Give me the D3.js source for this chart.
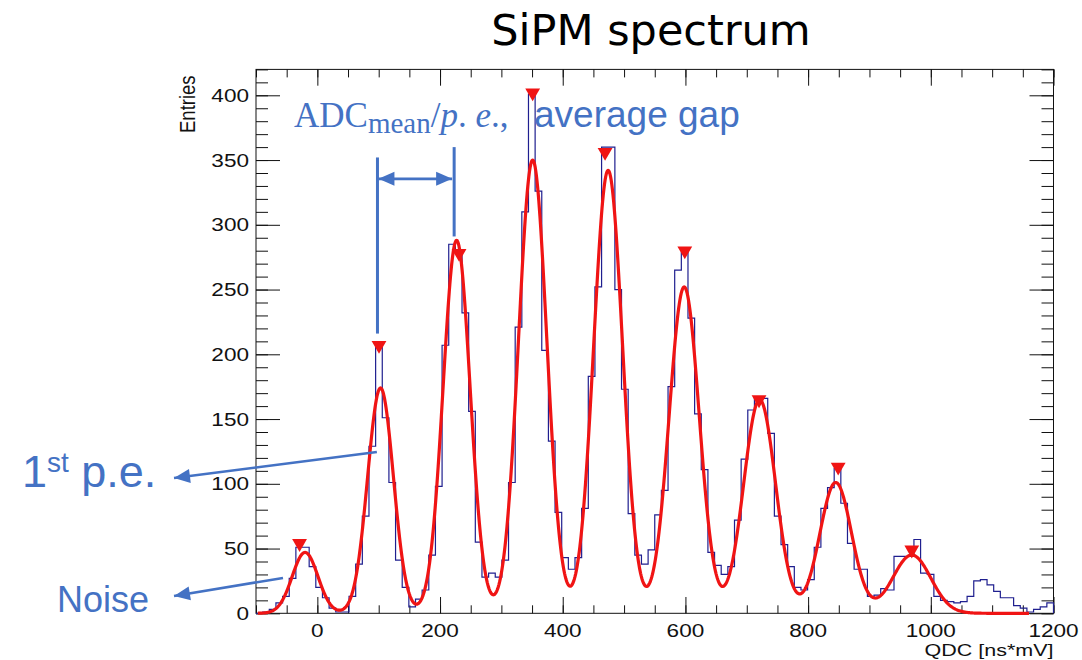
<!DOCTYPE html>
<html><head><meta charset="utf-8">
<script src="https://cdn.jsdelivr.net/npm/d3@7"></script>
<style>body{margin:0;background:#fff} svg{display:block}</style>
</head><body>
<svg id="c" width="1082" height="660"></svg>
<script>
// ---------------- data ----------------
const binLow = -100, binHigh = 1200;
const counts = [
  0, 1, 3, 8, 13, 27, 51, 51, 36, 20,
  12, 4, 1, 1, 13, 38, 75, 129, 207, 151,
  101, 41, 20, 5, 11, 18, 45, 98, 207, 285,
  279, 232, 156, 55, 28, 31, 28, 41, 101, 221,
  310, 401, 326, 203, 133, 78, 43, 34, 43, 81,
  183, 252, 360, 360, 250, 173, 77, 45, 38, 49,
  76, 95, 175, 265, 279, 228, 154, 111, 47, 37,
  30, 36, 72, 119, 157, 167, 166, 139, 75, 53,
  36, 20, 18, 26, 51, 81, 97, 112, 85, 54,
  34, 34, 13, 14, 19, 18, 44, 44, 44, 57,
  31, 30, 13, 10, 9, 8, 9, 13, 25, 26,
  22, 17, 12, 12, 6, 4, 1, 3, 5, 8
];
// peak markers found on the spectrum
const peakX = [-29, 100.5, 231, 351, 469, 599, 720, 849, 969];
const peakY = [54, 207, 278, 402, 356, 280, 165, 113, 49];
// multi-gaussian fit parameters
const fitMean  = [-20, 103, 227, 351, 474, 598, 721, 845, 969];
const fitAmp   = [47, 174, 288, 350, 342, 252, 165, 101, 45];
const fitSigma = [21, 21, 22, 23, 23.5, 24.5, 26, 26, 31];
const fitRange = [-97, 1160];
const xTickLabels = [0, 200, 400, 600, 800, 1000, 1200];
const yTickLabels = [0, 50, 100, 150, 200, 250, 300, 350, 400];
const xMinorStep = 50, yMinorStep = 10;
const yMax = 420;

// ---------------- layout ----------------
const svg = d3.select("#c");
const L = 256, R = 1053.5, T = 69.4, B = 613.3;
const x = d3.scaleLinear().domain([binLow, binHigh]).range([L, R]);
const y = d3.scaleLinear().domain([0, yMax]).range([B, T]);
const SX = 1.22; // horizontal stretch of the ROOT canvas text
const rootFont = "'Liberation Sans', Arial, sans-serif";
const blue = "#4472C4";

// title
svg.append("text").attr("x", 651).attr("y", 45).attr("text-anchor", "middle")
  .attr("font-family", "'DejaVu Sans', sans-serif")
  .attr("font-size", 43).attr("fill", "#000").text("SiPM spectrum");

// ticks
const xMinor = d3.range(binLow, binHigh + 0.1, xMinorStep);
const yMinor = d3.range(0, yMax + 0.1, yMinorStep);
function ax(gen, tr, vals, size) {
  const g = svg.append("g").attr("transform", tr)
    .call(gen.tickValues(vals).tickSizeInner(-size).tickSizeOuter(0).tickFormat(""));
  g.select(".domain").remove();
  g.selectAll("line").attr("stroke", "#111").attr("stroke-width", 1);
}
ax(d3.axisBottom(x), `translate(0,${B})`, xTickLabels, 16.3);
ax(d3.axisBottom(x), `translate(0,${B})`, xMinor, 8);
ax(d3.axisTop(x), `translate(0,${T})`, xTickLabels, 16.3);
ax(d3.axisTop(x), `translate(0,${T})`, xMinor, 8);
ax(d3.axisLeft(y), `translate(${L},0)`, yTickLabels, 24);
ax(d3.axisLeft(y), `translate(${L},0)`, yMinor, 12);
ax(d3.axisRight(y), `translate(${R},0)`, yTickLabels, 24);
ax(d3.axisRight(y), `translate(${R},0)`, yMinor, 12);

// frame
svg.append("rect").attr("x", L).attr("y", T).attr("width", R - L).attr("height", B - T)
  .attr("fill", "none").attr("stroke", "#111").attr("stroke-width", 1);

// tick labels
svg.selectAll(".xl").data(xTickLabels).join("text").attr("class", "xl")
  .attr("transform", d => `translate(${x(d)},637) scale(${SX},1)`)
  .attr("text-anchor", "middle").attr("font-family", rootFont).attr("font-size", 18.5)
  .attr("fill", "#111").text(d => d);
svg.selectAll(".yl").data(yTickLabels).join("text").attr("class", "yl")
  .attr("transform", d => `translate(249,${y(d) + 6.6}) scale(${SX},1)`)
  .attr("text-anchor", "end").attr("font-family", rootFont).attr("font-size", 18.5)
  .attr("fill", "#111").text(d => d);

// axis titles
svg.append("text").attr("transform", `translate(${L - 61},${T + 6}) scale(${SX},1) rotate(-90)`)
  .attr("text-anchor", "end").attr("font-family", rootFont).attr("font-size", 18.5)
  .attr("fill", "#111").text("Entries");
svg.append("text").attr("transform", `translate(${R},656.2) scale(1.28,1)`)
  .attr("text-anchor", "end").attr("font-family", rootFont).attr("font-size", 16.8)
  .attr("fill", "#111").text("QDC [ns*mV]");

// histogram
const bw = (binHigh - binLow) / counts.length;
const histPts = [[binLow, 0]].concat(counts.map((c, i) => [binLow + i * bw, c]), [[binHigh, 0]]);
svg.append("path").datum(histPts)
  .attr("d", d3.line().x(d => x(d[0])).y(d => y(d[1])).curve(d3.curveStepAfter))
  .attr("fill", "none").attr("stroke", "#1f1f8f").attr("stroke-width", 1.2);

// fit curve
const fitF = v => fitMean.reduce((s, m, k) => s + fitAmp[k] * Math.exp(-((v - m) ** 2) / (2 * fitSigma[k] ** 2)), 0);
const fitPts = d3.range(fitRange[0], fitRange[1] + 0.1, 1).map(v => [v, fitF(v)]);
svg.append("path").datum(fitPts)
  .attr("d", d3.line().x(d => x(d[0])).y(d => y(d[1])).curve(d3.curveLinear))
  .attr("fill", "none").attr("stroke", "#f01414").attr("stroke-width", 3.2)
  .attr("stroke-linejoin", "round");

// peak markers (downward triangles)
svg.selectAll(".pk").data(peakX).join("path").attr("class", "pk")
  .attr("transform", (d, i) => `translate(${x(d)},${y(peakY[i])}) rotate(180)`)
  .attr("d", d3.symbol(d3.symbolTriangle, 95)).attr("fill", "#f01414");

// ---------------- annotations ----------------
function arrowHead(g, x1, y1, x2, y2, len, half) {
  const a = Math.atan2(y2 - y1, x2 - x1), c = Math.cos(a), s = Math.sin(a);
  const bx = x2 - c * len, by = y2 - s * len;
  g.append("path").attr("d",
    `M${x2},${y2}L${bx - s * half},${by + c * half}L${bx + s * half},${by - c * half}Z`)
    .attr("fill", blue);
}
function arrow(x1, y1, x2, y2, both) {
  const g = svg.append("g");
  g.append("line").attr("x1", x1).attr("y1", y1).attr("x2", x2).attr("y2", y2)
    .attr("stroke", blue).attr("stroke-width", 2.6);
  arrowHead(g, x1, y1, x2, y2, 16, 7);
  if (both) arrowHead(g, x2, y2, x1, y1, 16, 7);
}
// average-gap marker lines (data coordinates of 1st and 2nd p.e.)
const gapX = [98, 223];
const gapTop = [352, 360], gapBot = [216, 291], gapArrowY = 335.5;
gapX.forEach((g, i) => {
  svg.append("line").attr("x1", x(g)).attr("x2", x(g)).attr("y1", y(gapTop[i])).attr("y2", y(gapBot[i]))
    .attr("stroke", blue).attr("stroke-width", 3);
});
arrow(x(gapX[0]) + 1, y(gapArrowY), x(gapX[1]) - 2, y(gapArrowY), true);

// 1st p.e. and noise arrows
arrow(x(97), y(124.5), 174, 478, false);
arrow(x(-56), y(27.3), 174, 596, false);

// texts
const t1 = svg.append("text").attr("x", 294).attr("y", 127).attr("fill", blue)
  .attr("font-family", "'Liberation Serif', 'DejaVu Serif', serif").attr("font-size", 35);
t1.append("tspan").text("ADC");
t1.append("tspan").attr("font-size", 29).attr("dy", 6).text("mean");
t1.append("tspan").attr("dy", -6).text("/");
t1.append("tspan").attr("font-style", "italic").text("p");
t1.append("tspan").text(". ");
t1.append("tspan").attr("font-style", "italic").text("e");
t1.append("tspan").text(".,");
svg.append("text").attr("x", 534).attr("y", 127).attr("fill", blue)
  .attr("font-family", "'Liberation Sans', Arial, sans-serif").attr("font-size", 37)
  .text("average gap");

const t2 = svg.append("text").attr("x", 22).attr("y", 487).attr("fill", blue)
  .attr("font-family", "'Liberation Sans', Arial, sans-serif").attr("font-size", 45);
t2.append("tspan").text("1");
t2.append("tspan").attr("font-size", 28).attr("dy", -15).text("st");
t2.append("tspan").attr("dy", 15).text(" p.e.");

svg.append("text").attr("x", 57).attr("y", 612).attr("fill", blue)
  .attr("font-family", "'Liberation Sans', Arial, sans-serif").attr("font-size", 36)
  .text("Noise");
</script>
</body></html>
